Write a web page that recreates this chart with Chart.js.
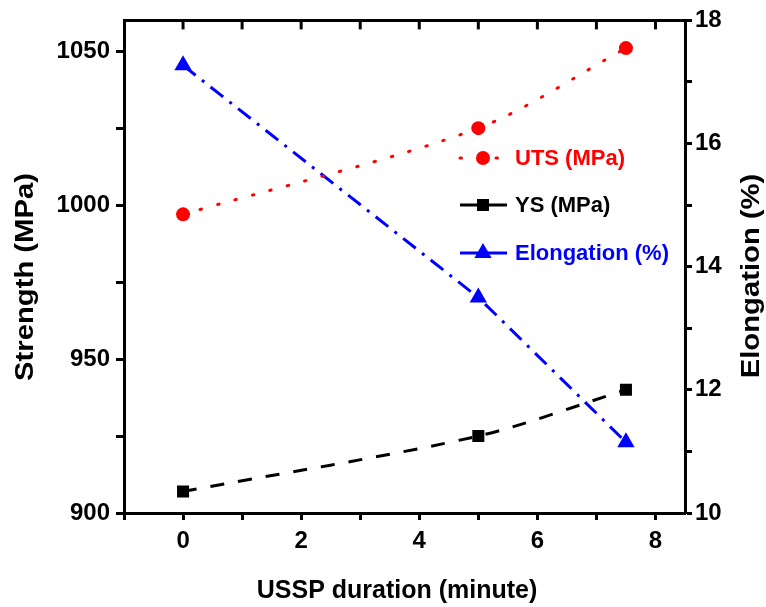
<!DOCTYPE html>
<html>
<head>
<meta charset="utf-8">
<title>USSP strength and elongation</title>
<script src="https://cdn.jsdelivr.net/npm/chart.js@4.4.1/dist/chart.umd.min.js"></script>
<style>
  html, body { margin: 0; padding: 0; background: #fff; }
  #wrap { width: 766px; height: 607px; }
</style>
</head>
<body>
<div id="wrap"><canvas id="chart" width="766" height="607"></canvas></div>
<script>
// Data
const durations = [0, 5, 7.5];              // USSP duration (minute)
const utsValues = [997, 1025, 1051];        // UTS (MPa)
const ysValues = [907, 925, 940];           // YS (MPa)
const elongValues = [17.27, 13.5, 11.15];   // Elongation (%)

const xTicks = [0, 2, 4, 6, 8];
const xMinorTicks = [1, 3, 5, 7];
const strengthTicks = [900, 950, 1000, 1050];
const elongTicks = [10, 12, 14, 16, 18];

const FONT = "'Liberation Sans', Arial, sans-serif";

function toPoints(ys) {
    return durations.map((x, i) => ({ x: x, y: ys[i] }));
}

// Legend drawn inside the plot area
const innerLegend = {
    id: 'innerLegend',
    afterDatasetsDraw(chart) {
        const ctx = chart.ctx;
        const rows = [
            { ds: 0, y: 158 },
            { ds: 1, y: 205 },
            { ds: 2, y: 253 }
        ];
        rows.forEach(r => {
            const ds = chart.data.datasets[r.ds];
            ctx.save();
            ctx.strokeStyle = ds.borderColor;
            ctx.lineWidth = ds.borderWidth;
            ctx.lineCap = ds.borderCapStyle || 'butt';
            ctx.setLineDash(r.ds === 0 ? ds.borderDash : []);
            ctx.beginPath();
            ctx.moveTo(460, r.y);
            ctx.lineTo(507, r.y);
            ctx.stroke();
            ctx.setLineDash([]);
            ctx.fillStyle = ds.pointBackgroundColor;
            ctx.strokeStyle = ds.pointBackgroundColor;
            Chart.helpers.drawPoint(ctx, {
                pointStyle: ds.pointStyle,
                radius: ds.pointRadius,
                borderWidth: 0,
                rotation: 0
            }, 483, r.y);
            ctx.fillStyle = ds.borderColor;
            ctx.font = 'bold 22px ' + FONT;
            ctx.textBaseline = 'middle';
            ctx.textAlign = 'left';
            ctx.fillText(ds.label, 515, r.y + 1);
            ctx.restore();
        });
    }
};

// Inward tick marks along the top frame
const topTicks = {
    id: 'topTicks',
    afterDraw(chart) {
        const ctx = chart.ctx;
        const xs = chart.scales.x;
        const top = chart.chartArea.top;
        ctx.save();
        ctx.strokeStyle = '#000';
        ctx.lineWidth = 3;
        xTicks.concat(xMinorTicks).forEach(v => {
            const px = xs.getPixelForValue(v);
            ctx.beginPath();
            ctx.moveTo(px, top - 1);
            ctx.lineTo(px, top + 9);
            ctx.stroke();
        });
        ctx.restore();
    }
};

// Axis titles (the originals are a little stretched along the text)
const axisTitles = {
    id: 'axisTitles',
    afterDraw(chart) {
        const ctx = chart.ctx;
        ctx.save();
        ctx.fillStyle = '#000';
        ctx.font = 'bold 25px ' + FONT;
        ctx.textAlign = 'center';
        ctx.textBaseline = 'middle';
        ctx.fillText('USSP duration (minute)', 397, 591);

        [['Strength (MPa)', 26, 277], ['Elongation (%)', 752, 276]].forEach(t => {
            ctx.save();
            ctx.translate(t[1], t[2]);
            ctx.rotate(-Math.PI / 2);
            ctx.scale(1.17, 1);
            ctx.fillText(t[0], 0, 0);
            ctx.restore();
        });
        ctx.restore();
    }
};

const tickFont = { family: FONT, size: 24, weight: 'bold' };

new Chart(document.getElementById('chart'), {
    type: 'scatter',
    data: {
        datasets: [
            {
                label: 'UTS (MPa)',
                data: toPoints(utsValues),
                yAxisID: 'y',
                showLine: true,
                borderColor: '#ff0000',
                borderWidth: 3,
                borderDash: [1.5, 16.5],
                borderCapStyle: 'round',
                tension: 0.3,
                pointStyle: 'circle',
                pointRadius: 7,
                pointBorderWidth: 0,
                pointBackgroundColor: '#ff0000'
            },
            {
                label: 'YS (MPa)',
                data: toPoints(ysValues),
                yAxisID: 'y',
                showLine: true,
                borderColor: '#000000',
                borderWidth: 3,
                borderDash: [14, 14],
                tension: 0.3,
                pointStyle: 'rect',
                pointRadius: 8.5,
                pointBorderWidth: 0,
                pointBackgroundColor: '#000000'
            },
            {
                label: 'Elongation (%)',
                data: toPoints(elongValues),
                yAxisID: 'y2',
                showLine: true,
                borderColor: '#0000ff',
                borderWidth: 3,
                borderDash: [16, 8, 3, 8],
                tension: 0,
                pointStyle: 'triangle',
                pointRadius: 10,
                pointBorderWidth: 0,
                pointBackgroundColor: '#0000ff'
            }
        ]
    },
    options: {
        responsive: false,
        animation: false,
        layout: { padding: 0 },
        plugins: {
            legend: { display: false },
            tooltip: { enabled: false }
        },
        scales: {
            x: {
                type: 'linear',
                position: 'bottom',
                min: -1,
                max: 8.5,
                afterFit: s => { s.height = 94; },
                border: { display: true, color: '#000', width: 3 },
                grid: { drawOnChartArea: false, tickLength: 7, tickWidth: 3, tickColor: '#000' },
                ticks: {
                    stepSize: 1,
                    includeBounds: false,
                    autoSkip: false,
                    maxRotation: 0,
                    color: '#000',
                    font: tickFont,
                    padding: 7,
                    callback: v => xTicks.includes(v) ? v : ''
                }
            },
            x2: {
                type: 'linear',
                position: 'top',
                min: -1,
                max: 8.5,
                afterFit: s => { s.height = 18; },
                border: { display: true, color: '#000', width: 3 },
                grid: { drawOnChartArea: false, drawTicks: false },
                ticks: { display: false }
            },
            y: {
                type: 'linear',
                position: 'left',
                min: 900,
                max: 1060,
                afterFit: s => { s.width = 124; },
                border: { display: true, color: '#000', width: 3 },
                grid: { drawOnChartArea: false, tickLength: 8, tickWidth: 3, tickColor: '#000' },
                ticks: {
                    stepSize: 25,
                    includeBounds: false,
                    autoSkip: false,
                    color: '#000',
                    font: tickFont,
                    padding: 6,
                    callback: v => strengthTicks.includes(v) ? v : ''
                }
            },
            y2: {
                type: 'linear',
                position: 'right',
                min: 10,
                max: 18,
                afterFit: s => { s.width = 81; },
                border: { display: true, color: '#000', width: 3 },
                grid: { drawOnChartArea: false, tickLength: 7, tickWidth: 3, tickColor: '#000' },
                ticks: {
                    stepSize: 1,
                    includeBounds: false,
                    autoSkip: false,
                    color: '#000',
                    font: tickFont,
                    padding: 3,
                    callback: v => elongTicks.includes(v) ? v : ''
                }
            }
        }
    },
    plugins: [innerLegend, topTicks, axisTitles]
});
</script>
</body>
</html>
